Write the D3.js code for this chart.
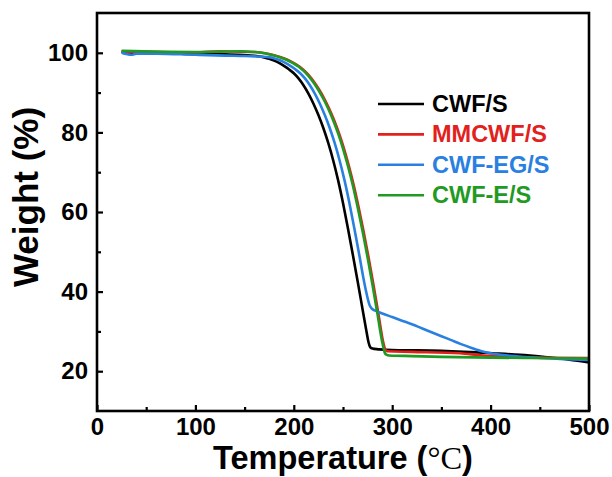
<!DOCTYPE html>
<html><head><meta charset="utf-8">
<script src="https://cdn.jsdelivr.net/npm/d3@7"></script>
<style>body{margin:0;background:#fff}svg{display:block}</style>
</head><body><svg id="c" width="612" height="477"></svg>
<script>
const xTicks=[0,100,200,300,400,500];
const xMinor=[50,150,250,350,450];
const yTicks=[20,40,60,80,100];
const yMinor=[30,50,70,90];
const seriesNames=["CWF/S","MMCWF/S","CWF-EG/S","CWF-E/S"];
const seriesColors=["#000000","#e3211c","#2a80e0","#1f9a23"];

const cwfT=[25,40,60,100,130,150,160,170,175,180,185,190,195,200,205,210,215,220,225,230,235,240,245,250,255,260,265,270,274,276,277.5,279,282,294,350,402,430,453,480,500];
const cwfW=[100.3,99.9,99.9,99.7,99.6,99.45,99.25,98.85,98.5,98.05,97.45,96.7,95.85,94.85,93.5,91.8,89.7,87.2,84.35,81.1,77.35,73.0,68.0,62.25,55.9,49.25,42.4,35.4,29.8,27.2,26.1,25.75,25.6,25.4,25.1,24.5,24.1,23.6,22.9,22.2];

const mmT=[25,100,125,145,161,171,176,181,186,191,196,201,206,211,216,221,226,231,236,241,246,251,256,261,266,271,276,281,286,291,293,295,320,369,390,420,460,500];
const mmW=[100.3,100.1,100.4,100.3,100.2,99.9,99.65,99.35,98.95,98.5,97.95,97.3,96.5,95.45,94.15,92.55,90.65,88.45,85.95,83.05,79.75,75.95,71.55,66.65,61.05,55.05,48.55,41.65,34.4,27.15,25.4,25.0,24.85,24.5,24.0,23.6,23.35,23.3];

const egT=[25,35,40,60,100,130,150,165,176.5,181.5,186.5,191.5,196.5,201.5,206.5,211.5,216.5,221.5,226.5,231.5,236.5,241.5,246.5,251.5,256.5,261.5,266.5,271.5,274.5,277,279,283,290,300,310,320,330,340,350,360,370,380,390,400,420,440,470,500];
const egW=[100.0,99.5,99.8,99.8,99.5,99.3,99.2,99.05,98.85,98.5,98.05,97.45,96.7,95.85,94.85,93.5,91.8,89.7,87.2,84.35,81.1,77.35,73.0,68.0,62.25,55.9,49.25,42.4,38.9,36.6,35.8,35.2,34.5,33.6,32.7,31.8,30.8,29.8,28.8,27.8,26.8,25.9,25.1,24.5,23.9,23.5,23.1,22.8];

const eT=[25,60,100,125,145,160,170,175,180,185,190,195,200,205,210,215,220,225,230,235,240,245,250,255,260,265,270,275,280,285,290,292.5,294,297,320,350,400,450,500];
const eW=[100.5,100.3,100.2,100.3,100.4,100.2,99.9,99.65,99.35,98.95,98.5,97.95,97.3,96.5,95.45,94.15,92.55,90.65,88.45,85.95,83.05,79.75,75.95,71.55,66.65,61.05,55.05,48.55,41.65,34.4,27.15,24.6,24.15,23.95,23.8,23.6,23.4,23.3,23.2];

const seriesT=[cwfT,mmT,egT,eT];
const seriesW=[cwfW,mmW,egW,eW];

const svg=d3.select("#c");
const x=d3.scaleLinear().domain([0,500]).range([97,589]);
const y=d3.scaleLinear().domain([10,110]).range([411,13]);
const FONT="Arial, 'Liberation Sans', sans-serif";

svg.append("clipPath").attr("id","clp").append("rect")
  .attr("x",x(0)).attr("y",y(110)).attr("width",x(500)-x(0)).attr("height",y(10)-y(110));
const line=d3.line().x(d=>x(d[0])).y(d=>y(d[1])).curve(d3.curveMonotoneX);
const g=svg.append("g").attr("clip-path","url(#clp)");
[0,1,2,3].forEach(i=>{
  const pts=seriesT[i].map((t,j)=>[t,seriesW[i][j]]);
  g.append("path").datum(pts).attr("d",line).attr("fill","none")
    .attr("stroke",seriesColors[i]).attr("stroke-width",2.6).attr("stroke-linejoin","round");
});

const xa=svg.append("g").attr("transform",`translate(0,${y(10)})`)
  .call(d3.axisBottom(x).tickValues(xTicks).tickSize(-6).tickPadding(7).tickFormat(d3.format("d")));
const xm=svg.append("g").attr("transform",`translate(0,${y(10)})`)
  .call(d3.axisBottom(x).tickValues(xMinor).tickSize(-4).tickFormat(""));
const ya=svg.append("g").attr("transform",`translate(${x(0)},0)`)
  .call(d3.axisLeft(y).tickValues(yTicks).tickSize(-6).tickPadding(9).tickFormat(d3.format("d")));
const ym=svg.append("g").attr("transform",`translate(${x(0)},0)`)
  .call(d3.axisLeft(y).tickValues(yMinor).tickSize(-4).tickFormat(""));
[xa,xm,ya,ym].forEach(a=>{
  a.select(".domain").remove();
  a.selectAll("line").attr("stroke","#000").attr("stroke-width",2.2);
  a.selectAll("text").attr("font-family",FONT).attr("font-weight","bold")
    .attr("font-size",24).attr("fill","#000");
});

svg.append("rect").attr("x",x(0)).attr("y",y(110)).attr("width",x(500)-x(0)).attr("height",y(10)-y(110))
  .attr("fill","none").attr("stroke","#000").attr("stroke-width",2.6);

const xt=svg.append("text").attr("x",343).attr("y",469).attr("text-anchor","middle")
  .attr("font-family",FONT).attr("font-weight","bold").attr("font-size",32.5).attr("fill","#000");
xt.append("tspan").text("Temperature (");
xt.append("tspan").attr("font-family","'Liberation Serif', 'Times New Roman', serif").attr("font-weight","normal").text("°C");
xt.append("tspan").text(")");

svg.append("text").attr("transform","translate(38,197) rotate(-90)").attr("text-anchor","middle")
  .attr("font-family",FONT).attr("font-weight","bold").attr("font-size",35).attr("fill","#000")
  .text("Weight (%)");

const lg=svg.append("g");
seriesNames.forEach((n,i)=>{
  const by=112+i*30.4;
  lg.append("line").attr("x1",378).attr("x2",424).attr("y1",by-8).attr("y2",by-8)
    .attr("stroke",seriesColors[i]).attr("stroke-width",2.6);
  lg.append("text").attr("x",432).attr("y",by).attr("font-family",FONT).attr("font-weight","bold")
    .attr("font-size",23.5).attr("fill",seriesColors[i]).text(n);
});
</script></body></html>
